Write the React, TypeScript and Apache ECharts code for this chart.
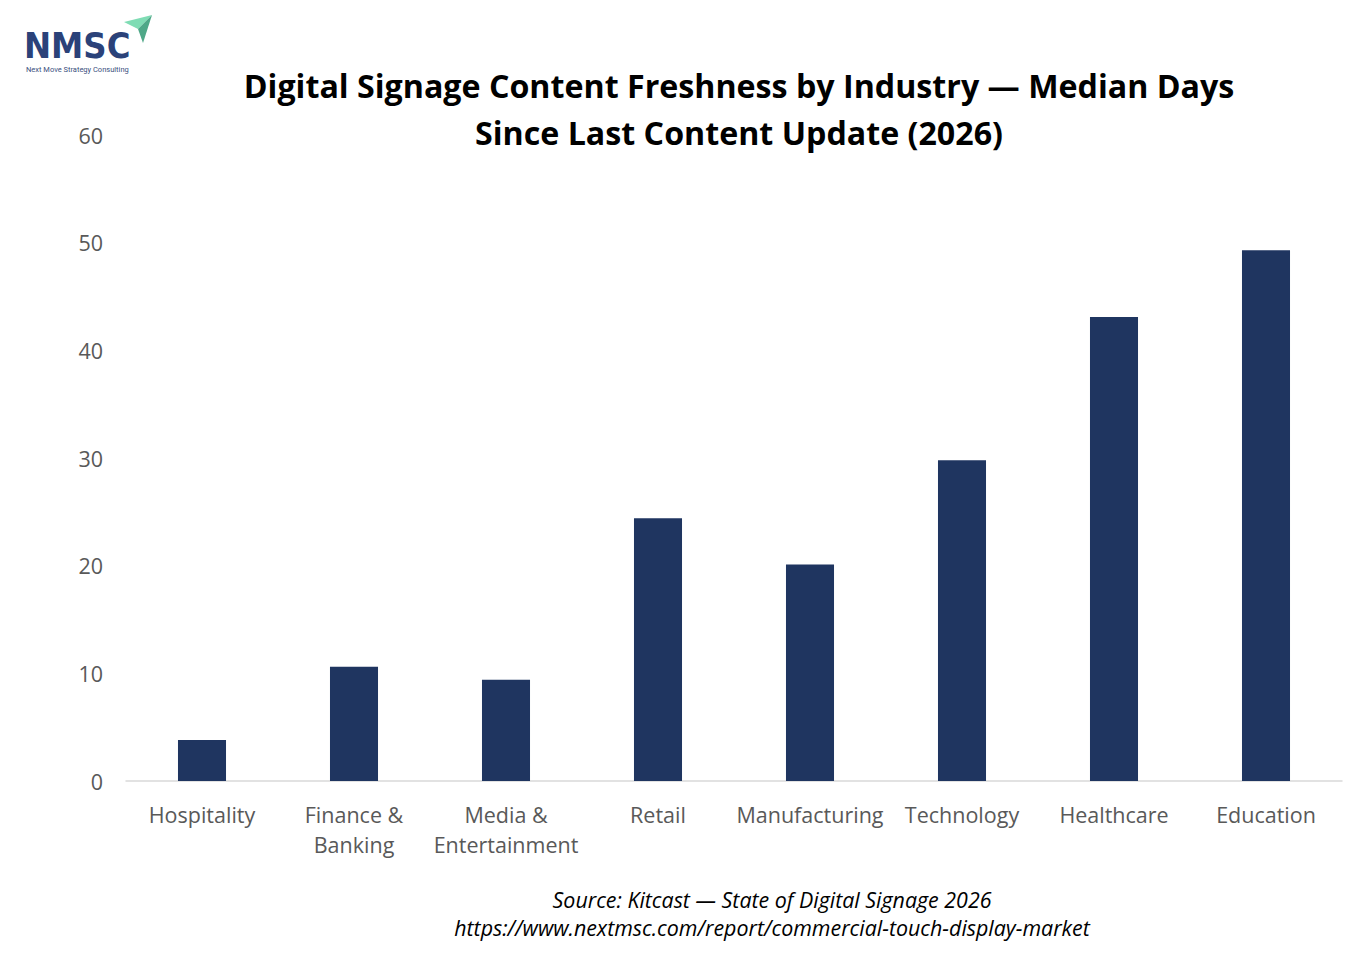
import React, { useEffect, useRef } from "react";
import * as echarts from "echarts";

const categories = [
  "Hospitality",
  "Finance &\nBanking",
  "Media &\nEntertainment",
  "Retail",
  "Manufacturing",
  "Technology",
  "Healthcare",
  "Education",
];
const medianDays = [3.8, 10.6, 9.4, 24.4, 20.1, 29.8, 43.1, 49.3];
const titleLines = [
  "Digital Signage Content Freshness by Industry — Median Days",
  "Since Last Content Update (2026)",
];
const sourceLines = [
  "Source: Kitcast — State of Digital Signage 2026",
  "https://www.nextmsc.com/report/commercial-touch-display-market",
];

const FONT = "'Open Sans', Lato, sans-serif";

export default function App() {
  const ref = useRef<HTMLDivElement>(null);
  useEffect(() => {
    document.body.style.margin = "0";
    const chart = echarts.init(ref.current!, undefined, { renderer: "svg" });
    chart.setOption({
      animation: false,
      backgroundColor: "#ffffff",
      grid: { left: 126, right: 30, top: 135, bottom: 179, containLabel: false },
      xAxis: {
        type: "category",
        data: categories,
        axisLine: { lineStyle: { color: "#d9d9d9", width: 1.5 } },
        axisTick: { show: false },
        axisLabel: {
          color: "#595959",
          fontSize: 21.5,
          fontFamily: FONT,
          lineHeight: 30,
          margin: 18,
          interval: 0,
        },
      },
      yAxis: {
        type: "value",
        min: 0,
        max: 60,
        interval: 10,
        splitLine: { show: false },
        axisLine: { show: false },
        axisTick: { show: false },
        axisLabel: {
          color: "#595959",
          fontSize: 21.5,
          fontFamily: FONT,
          margin: 23,
        },
      },
      series: [
        {
          type: "bar",
          data: medianDays,
          barWidth: "31.6%",
          itemStyle: { color: "#1f3560" },
        },
      ],
      graphic: [
        {
          type: "text",
          x: 739,
          y: 85,
          style: {
            text: titleLines[0],
            fontSize: 32.2,
            fontWeight: "bold",
            fontFamily: FONT,
            fill: "#000000",
            textAlign: "center",
            textVerticalAlign: "middle",
          },
        },
        {
          type: "text",
          x: 739,
          y: 132,
          style: {
            text: titleLines[1],
            fontSize: 32.2,
            fontWeight: "bold",
            fontFamily: FONT,
            fill: "#000000",
            textAlign: "center",
            textVerticalAlign: "middle",
          },
        },
        {
          type: "text",
          x: 772,
          y: 899,
          style: {
            text: sourceLines[0],
            fontSize: 21.4,
            fontStyle: "italic",
            fontFamily: FONT,
            fill: "#000000",
            textAlign: "center",
            textVerticalAlign: "middle",
          },
        },
        {
          type: "text",
          x: 772,
          y: 927,
          style: {
            text: sourceLines[1],
            fontSize: 21.4,
            fontStyle: "italic",
            fontFamily: FONT,
            fill: "#000000",
            textAlign: "center",
            textVerticalAlign: "middle",
          },
        },
        {
          type: "text",
          x: 24,
          y: 45,
          style: {
            text: "NMSC",
            fontSize: 36,
            lineHeight: 36,
            fontWeight: "bold",
            fontFamily: "'DejaVu Sans Condensed', 'Roboto', sans-serif",
            fill: "#2b4279",
            textAlign: "left",
            textVerticalAlign: "middle",
          },
        },
        {
          type: "text",
          x: 26,
          y: 69,
          style: {
            text: "Next Move Strategy Consulting",
            fontSize: 7.5,
            fontFamily: "Roboto, sans-serif",
            fill: "#3b4f80",
            textAlign: "left",
            textVerticalAlign: "middle",
          },
        },
        {
          type: "polygon",
          shape: { points: [[124, 22], [152, 15], [138, 29]] },
          style: { fill: "#7fdcb4" },
        },
        {
          type: "polygon",
          shape: { points: [[138, 29], [152, 15], [143, 43]] },
          style: { fill: "#4fa888" },
        },
      ],
    });
    return () => chart.dispose();
  }, []);
  return (
    <div
      ref={ref}
      style={{ position: "absolute", left: 0, top: 0, width: 1372, height: 960 }}
    />
  );
}
